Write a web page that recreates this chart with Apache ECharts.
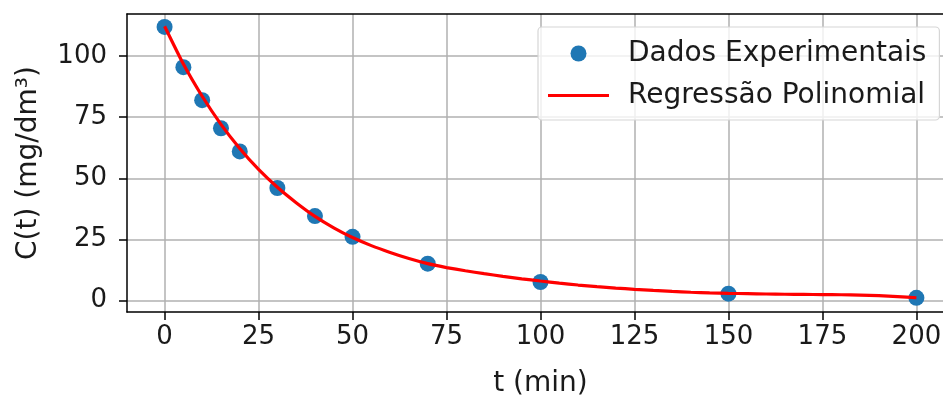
<!DOCTYPE html>
<html>
<head>
<meta charset="utf-8">
<script src="https://cdn.jsdelivr.net/npm/echarts@6/dist/echarts.min.js"></script>
<style>
	html, body { margin: 0; padding: 0; background: #fff; }
	#chart { width: 943px; height: 396px; }
</style>
</head>
<body>
<div id="chart"></div>
<script>
// measured points
const tData = [0, 5, 10, 15, 20, 30, 40, 50, 70, 100, 150, 200];
const cData = [112, 95.5, 82, 70.5, 61, 46, 34.5, 26, 15, 7.5, 2.7, 1];

// fitted curve, every 5 min
const tFit = [0, 5, 10, 15, 20, 25, 30, 35, 40, 45, 50, 55, 60, 65, 70, 75, 80, 85, 90, 95, 100,
	105, 110, 115, 120, 125, 130, 135, 140, 145, 150, 155, 160, 165, 170, 175, 180, 185, 190, 195, 200];
const cFit = [112.3, 96.8, 83.6, 72.1, 62.2, 53.6, 46.3, 40.0, 34.4, 29.7, 25.7, 22.4, 19.6, 17.1, 15.0, 13.4, 12.1, 10.9, 9.8, 8.8, 7.9,
	7.05, 6.25, 5.6, 5.0, 4.5, 4.05, 3.65, 3.3, 3.05, 2.85, 2.7, 2.57, 2.48, 2.41, 2.35, 2.27, 2.15, 1.9, 1.5, 1.05];

const xTicks = [0, 25, 50, 75, 100, 125, 150, 175, 200];
const yTicks = [0, 25, 50, 75, 100];

const font = 'DejaVu Sans';
const tickSize = 26;
const labelSize = 28;
const gridColor = '#b0b0b0';
const textColor = '#1a1a1a';
const spine = { color: '#000', width: 1.5 };

// thin strip inside a 61x16 box (zero-area corners keep the box size)
const lineIcon = 'path://M0,0L0,0M61,16L61,16M0,6.4H61V9.6H0Z';

const chart = echarts.init(document.getElementById('chart'), null, {renderer: 'canvas'});

chart.setOption({
	animation: false,
	textStyle: { fontFamily: font },
	grid: {
		left: 127,
		top: 14,
		right: -11,
		bottom: 84,
		outerBoundsMode: 'none',
		containLabel: false,
		show: false
	},
	legend: {
		orient: 'vertical',
		left: 538,
		top: 27,
		padding: [10, 13, 8, 10],
		itemGap: 9,
		itemWidth: 61,
		itemHeight: 16,
		backgroundColor: 'rgba(255,255,255,0.8)',
		borderColor: '#d6d6d6',
		borderWidth: 1.2,
		borderRadius: 4,
		textStyle: {
			fontFamily: font,
			fontSize: labelSize,
			lineHeight: 33,
			color: textColor,
			padding: [0, 0, 0, 14]
		},
		data: [
			{ name: 'Dados Experimentais', icon: 'circle', itemStyle: { color: '#1f77b4', opacity: 1 } },
			{ name: 'Regressão Polinomial', icon: lineIcon, itemStyle: { color: '#ff0000' } }
		]
	},
	xAxis: [{
		type: 'value',
		min: -10,
		max: 210,
		name: 't (min)',
		nameLocation: 'middle',
		nameGap: 58,
		nameTextStyle: { fontFamily: font, fontSize: labelSize, color: textColor },
		axisLine: { show: true, onZero: false, lineStyle: spine },
		axisTick: { show: true, length: 8, customValues: xTicks, lineStyle: spine },
		axisLabel: { margin: 12, customValues: xTicks, fontFamily: font, fontSize: tickSize, color: textColor },
		splitLine: { show: true, lineStyle: { color: gridColor, width: 1.5 } }
	}, {
		// top spine
		type: 'value',
		position: 'top',
		min: -10,
		max: 210,
		axisLine: { show: true, onZero: false, lineStyle: spine },
		axisTick: { show: false },
		axisLabel: { show: false },
		splitLine: { show: false }
	}],
	yAxis: {
		type: 'value',
		min: -4.8,
		max: 117.3,
		name: 'C(t) (mg/dm³)',
		nameLocation: 'middle',
		nameGap: 84,
		nameTextStyle: { fontFamily: font, fontSize: labelSize, color: textColor },
		axisLine: { show: true, onZero: false, lineStyle: spine },
		axisTick: { show: true, length: 8, customValues: yTicks, lineStyle: spine },
		axisLabel: { margin: 20, customValues: yTicks, fontFamily: font, fontSize: tickSize, color: textColor },
		splitLine: { show: true, lineStyle: { color: gridColor, width: 1.5 } }
	},
	series: [
		{
			name: 'Dados Experimentais',
			type: 'scatter',
			symbol: 'circle',
			symbolSize: 16,
			itemStyle: { color: '#1f77b4', opacity: 1 },
			data: tData.map((t, i) => [t, cData[i]]),
			z: 2
		},
		{
			name: 'Regressão Polinomial',
			type: 'line',
			showSymbol: false,
			symbol: 'none',
			smooth: 0.15,
			lineStyle: { color: '#ff0000', width: 3.2 },
			itemStyle: { color: '#ff0000' },
			data: tFit.map((t, i) => [t, cFit[i]]),
			z: 3
		}
	]
});
</script>
</body>
</html>
